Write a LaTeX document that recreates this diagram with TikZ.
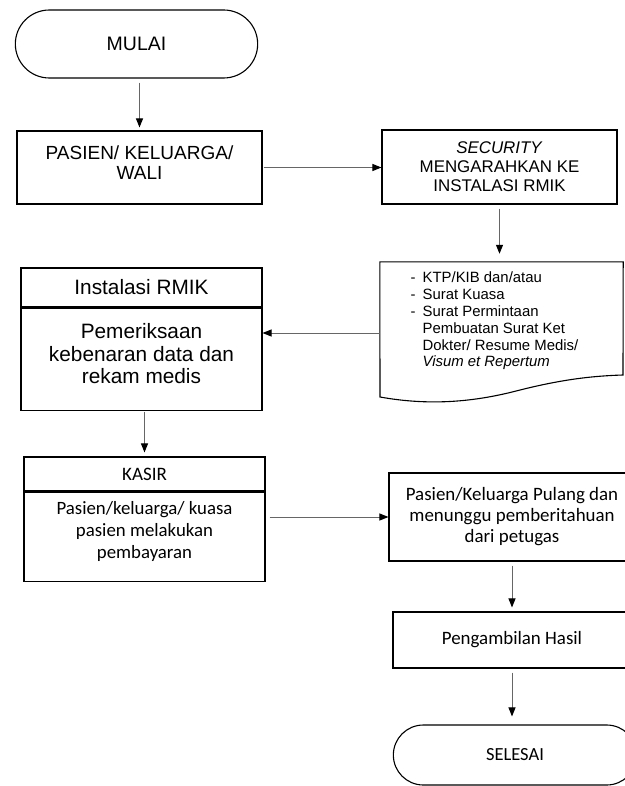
\documentclass[tikz,border=0pt]{standalone}
\usepackage{fontspec}
\setmainfont{Liberation Sans}
\newfontfamily\calibri{Carlito}
\usetikzlibrary{shapes.misc, arrows.meta, positioning}

\begin{document}
\begin{tikzpicture}[x=1pt, y=-1pt,
  box/.style={draw, line width=1.1pt, rectangle, align=center, inner sep=2pt},
  term/.style={draw, line width=1.1pt, rounded rectangle, align=center},
  arr/.style={-{Triangle[length=9pt, width=7pt, color=black]}, line width=1pt, draw=black!60},
]
  \useasboundingbox (0,0) rectangle (624,786);
  \node[term, minimum width=249pt, minimum height=68pt, font=\fontsize{19.5}{21}\selectfont] (mulai) at (136.5,44) {MULAI};
  \node[box, minimum width=245pt, minimum height=73pt, text depth=10pt, font=\fontsize{19}{20}\selectfont] (pasien) at (139.5,167.5) {PASIEN/ KELUARGA/\\WALI};
  \node[box, minimum width=235pt, minimum height=74pt, font=\fontsize{16.9}{19}\selectfont] (security) at (499.5,167) {\textit{SECURITY}\\MENGARAHKAN KE\\INSTALASI RMIK};
  \node[minimum width=243pt, minimum height=135pt, inner sep=0pt, font=\fontsize{14.9}{16.8}\selectfont] (docu) at (501.5,329.5) {\begin{tabular}{@{}l@{\hspace{7pt}}l@{\hspace{14pt}}}
    - & KTP/KIB dan/atau\\
    - & Surat Kuasa\\
    - & Surat Permintaan\\
      & Pembuatan Surat Ket\\
      & Dokter/ Resume Medis/\\
      & \textit{Visum et Repertum}\\[16pt]
  \end{tabular}};
  \draw[line width=1.1pt] (docu.north west) -- (docu.north east) -- (623,375)
    .. controls (590,376) and (560,380) .. (520,390)
    .. controls (475,402) and (430,406) .. (380,397) -- cycle;
  \node[box, minimum width=241pt, minimum height=39pt, font=\fontsize{20.8}{22.5}\selectfont] (instTitle) at (141.5,287.5) {Instalasi RMIK};
  \node[box, below=0pt of instTitle, minimum width=241pt, minimum height=102pt, text depth=11pt, font=\fontsize{20.8}{22.5}\selectfont] (instBody) {Pemeriksaan\\kebenaran data dan\\rekam medis};
  \node[box, minimum width=241pt, minimum height=34pt, font=\calibri\fontsize{19}{22}\selectfont] (kasirTitle) at (144.5,474) {KASIR};
  \node[box, below=0pt of kasirTitle, minimum width=241pt, minimum height=89pt, text depth=14pt, font=\calibri\fontsize{18.8}{22}\selectfont] (kasirBody) {Pasien/keluarga/ kuasa\\pasien melakukan\\pembayaran};
  \node[box, minimum width=246pt, minimum height=88pt, font=\calibri\fontsize{18.9}{21}\selectfont] (pulang) at (512,517) {Pasien/Keluarga Pulang dan\\menunggu pemberitahuan\\dari petugas};
  \node[box, minimum width=238pt, minimum height=56pt, font=\calibri\fontsize{18.9}{21}\selectfont] (hasil) at (512,640) {Pengambilan Hasil};
  \node[term, minimum width=250pt, minimum height=60pt, font=\calibri\fontsize{18.5}{21}\selectfont] (selesai) at (515,755) {SELESAI};
  \draw[arr, shorten <=4pt, shorten >=3pt] (pasien.north |- mulai.south) -- (pasien.north);
  \draw[arr, shorten <=1pt] (pasien.east) -- (pasien.east -| security.west);
  \draw[arr, shorten <=4pt, shorten >=8pt] (security.south) -- (security.south |- docu.north);
  \draw[arr] ([yshift=-3.5pt]docu.west) -- ([yshift=-3.5pt]docu.west -| instBody.east);
  \draw[arr, shorten <=1pt, shorten >=4pt] (kasirTitle.north |- instBody.south) -- (kasirTitle.north);
  \draw[arr, shorten <=4pt] (pulang.west -| kasirBody.east) -- (pulang.west);
  \draw[arr, shorten <=4pt, shorten >=4pt] (pulang.south) -- (hasil.north);
  \draw[arr, shorten <=4pt, shorten >=8pt] (hasil.south) -- (hasil.south |- selesai.north);
\end{tikzpicture}
\end{document}
